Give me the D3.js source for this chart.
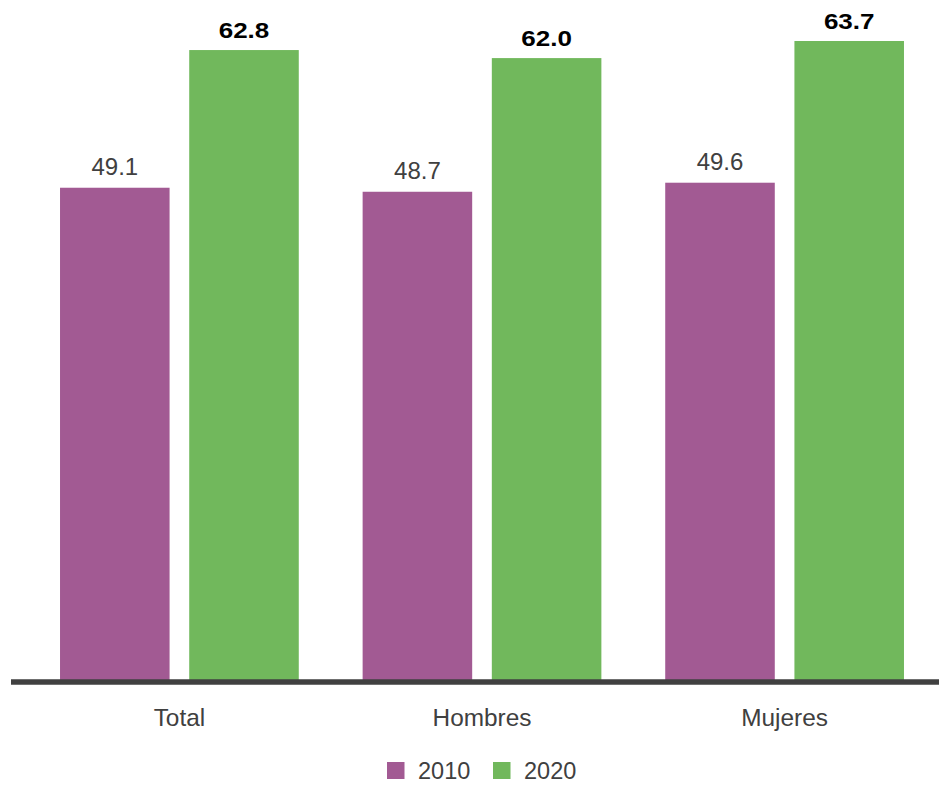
<!DOCTYPE html>
<html><head><meta charset="utf-8">
<script src="https://cdn.jsdelivr.net/npm/d3@7"></script>
<style>body{margin:0;background:#fff}svg{display:block}</style>
</head><body>
<script>
const categories = ["Total", "Hombres", "Mujeres"];
const seriesNames = ["2010", "2020"];
const values2010 = [49.1, 48.7, 49.6];
const values2020 = [62.8, 62.0, 63.7];
const seriesValues = [values2010, values2020];
const colors = ["#A25A93", "#71B85C"];

const W = 939, H = 785;
const svg = d3.select("body").append("svg").attr("width", W).attr("height", H);
const font = "'Liberation Sans', Arial, Helvetica, sans-serif";

const x0 = d3.scaleBand().domain(categories).range([11, 953]).paddingInner(0.211).paddingOuter(0.162);
const x1 = d3.scaleBand().domain(seriesNames).range([0, x0.bandwidth()]).paddingInner(0.152);
const y = d3.scaleLinear().domain([0, 67.78]).range([681.2, 0]);

const g = svg.append("g");
categories.forEach((c, i) => {
  seriesNames.forEach((s, j) => {
    const v = seriesValues[j][i];
    const xb = x0(c) + x1(s);
    g.append("rect").attr("x", xb).attr("y", y(v)).attr("width", x1.bandwidth())
      .attr("height", y(0) - y(v)).attr("fill", colors[j]);
    const cx = xb + x1.bandwidth() / 2;
    const t = g.append("text").attr("x", cx).attr("y", y(v) - 12.5)
      .attr("text-anchor", "middle").text(v.toFixed(1));
    if (j === 1) {
      t.attr("font-family", font).attr("font-weight", "bold")
       .attr("font-size", 21.5).attr("fill", "#000")
       .attr("x", cx - 25.3).attr("text-anchor", "start")
       .attr("textLength", 50.6).attr("lengthAdjust", "spacingAndGlyphs");
    } else {
      t.attr("font-family", font).attr("font-size", 24).attr("fill", "#404040");
    }
  });
});

// axis
const xAxis = d3.axisBottom(x0).tickSize(0).tickPadding(0);
const ax = svg.append("g").attr("transform", `translate(0,${y(0)})`).call(xAxis);
ax.select(".domain").remove();
svg.append("line").attr("x1", 11).attr("x2", 939).attr("y1", 682).attr("y2", 682)
  .attr("stroke", "#404040").attr("stroke-width", 5.5);
ax.selectAll("text").attr("font-family", font).attr("font-size", 24.4).attr("fill", "#404040")
  .attr("dy", null).attr("y", 726 - y(0)).attr("dominant-baseline", "alphabetic");

// legend
const legendX = [387, 493];
seriesNames.forEach((s, j) => {
  svg.append("rect").attr("x", legendX[j]).attr("y", 762).attr("width", 17.5).attr("height", 17)
    .attr("fill", colors[j]);
  svg.append("text").attr("x", legendX[j] + 31).attr("y", 779).attr("font-family", font)
    .attr("font-size", 23.5).attr("fill", "#404040").text(s);
});
</script>
</body></html>
